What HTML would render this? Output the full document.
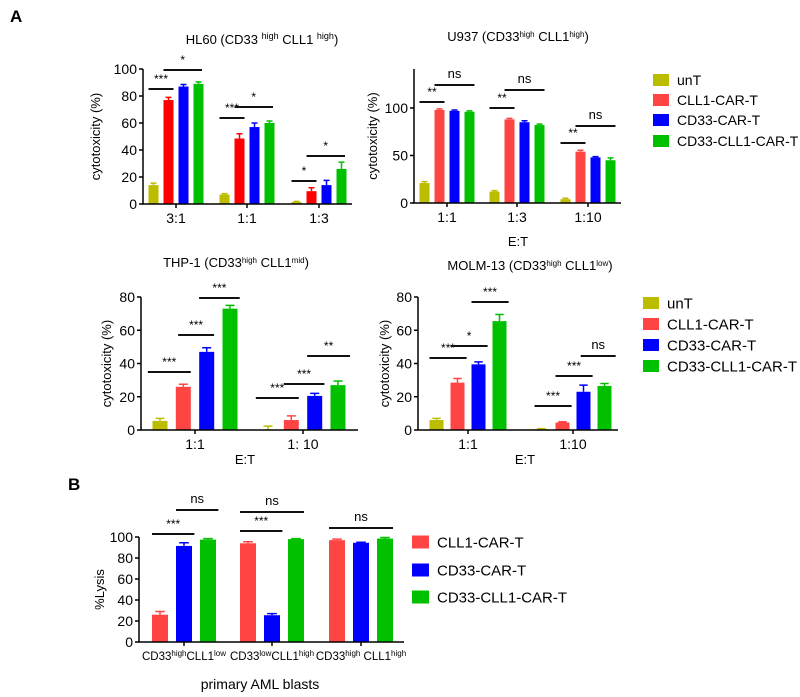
<!DOCTYPE html>
<html><head><meta charset="utf-8"><style>
html,body{margin:0;padding:0;background:#fff}
svg{display:block;font-family:"Liberation Sans",Arial,sans-serif}
</style></head><body>
<svg id="fig" width="800" height="697" viewBox="0 0 800 697" xmlns="http://www.w3.org/2000/svg">
<text x="10" y="22" font-size="17" font-weight="bold">A</text>
<text x="68" y="490" font-size="17" font-weight="bold">B</text>

<text x="262" y="44" font-size="13" text-anchor="middle">HL60 (CD33 <tspan font-size="9" dy="-5">high</tspan><tspan dy="5"> CLL1 </tspan><tspan font-size="9" dy="-5">high</tspan><tspan dy="5">)</tspan></text>
<text x="518" y="41" font-size="13" text-anchor="middle">U937 (CD33<tspan font-size="8" dy="-4">high</tspan><tspan dy="4"> CLL1</tspan><tspan font-size="8" dy="-4">high</tspan><tspan dy="4">)</tspan></text>
<text x="236" y="267" font-size="13" text-anchor="middle">THP-1 (CD33<tspan font-size="8" dy="-4">high</tspan><tspan dy="4"> CLL1</tspan><tspan font-size="8" dy="-4">mid</tspan><tspan dy="4">)</tspan></text>
<text x="530" y="270" font-size="13" text-anchor="middle">MOLM-13 (CD33<tspan font-size="8" dy="-4">high</tspan><tspan dy="4"> CLL1</tspan><tspan font-size="8" dy="-4">low</tspan><tspan dy="4">)</tspan></text>

<text x="518" y="246" font-size="13" text-anchor="middle">E:T</text>
<text x="245" y="464" font-size="13" text-anchor="middle">E:T</text>
<text x="525" y="464" font-size="13" text-anchor="middle">E:T</text>
<text x="260" y="689" font-size="14" text-anchor="middle">primary AML blasts</text>
<g id="layer"></g>
</svg>
<script>
// ---- data ----
const seriesNames = ["unT","CLL1-CAR-T","CD33-CAR-T","CD33-CLL1-CAR-T"];
const seriesNamesB = ["CLL1-CAR-T","CD33-CAR-T","CD33-CLL1-CAR-T"];
const hl60Cats = ["3:1","1:1","1:3"];
const hl60Vals = [[14,7,1.5],[77,48.5,9.5],[87,57,14],[89,60,26]];
const hl60Err = [[1.5,0.7,0.4],[2,3.5,2.5],[1.5,3,3.5],[1.5,1.5,5]];
const hl60Ticks = [0,20,40,60,80,100];
const u937Cats = ["1:1","1:3","1:10"];
const u937Vals = [[21,12,4],[98,88,54],[97,85,48],[96,82,45]];
const u937Err = [[1.5,1,1],[1,1,1.5],[0.8,1.5,0.8],[1,1,2.5]];
const u937Ticks = [0,50,100];
const thp1Cats = ["1:1","1: 10"];
const thp1Vals = [[5.5,0.3],[26,6],[47,20.5],[73,27]];
const thp1Err = [[1.5,2],[1.5,2.5],[2.5,1.5],[2,2.5]];
const thp1Ticks = [0,20,40,60,80];
const molmCats = ["1:1","1:10"];
const molmVals = [[6,0.5],[28.5,4.5],[39.5,23],[65.5,26.5]];
const molmErr = [[1,0.3],[2.5,0.5],[1.5,4],[4,1.5]];
const molmTicks = [0,20,40,60,80];
const bCats = [["CD33","high","CLL1","low"],["CD33","low","CLL1","high"],["CD33","high"," CLL1","high"]];
const bVals = [[26,94,97],[91.5,25.5,94.5],[97.5,98,98.5]];
const bErr = [[3,1.5,1],[3,1.5,0.5],[1,0.5,1]];
const bTicks = [0,20,40,60,80,100];
// brackets: [category index, series from, series to, label, y]
const hl60Sig = [[0,0,1,"***",89],[0,1,2.9,"*",70],[1,0,1,"***",118],[1,1,2.9,"*",107],[2,0,1,"*",181],[2,1,2.9,"*",156]];
const u937Sig = [[0,0,1,"**",102],[0,1,3,"ns",85],[1,0,1,"**",108],[1,1,3,"ns",90],[2,0,1,"**",143],[2,1,3,"ns",126]];
const thp1Sig = [[0,-0.2,1,"***",372],[0,1.1,2,"***",335],[0,2,3.1,"***",298],[1,-0.2,1,"***",398],[1,1,2.1,"***",384],[1,2,3.2,"**",356]];
const molmSig = [[0,0,1.1,"***",358],[0,1,2.1,"*",346],[0,2,3.1,"***",302],[1,0,1.1,"***",406],[1,1,2.1,"***",376],[1,2.2,3.2,"ns",356]];
const bSig = [[0,0,1.1,"***",534],[0,1,2.1,"ns",510],[1,0,1.1,"***",531],[1,0,2,"ns",512],[2,0,2,"ns",528]];

const NS="http://www.w3.org/2000/svg";
const layer=document.getElementById('layer');
function mk(tag,attrs,parent){const e=document.createElementNS(NS,tag);for(const k in attrs)e.setAttribute(k,attrs[k]);(parent||layer).appendChild(e);return e;}

function panel(p){
  const g=mk('g',{});
  
  
  const y=v=>p.y0-(v/p.max)*(p.y0-p.yTop);
  const x=(ci,si)=>p.centers[ci]+p.offsets[si];
  p.vals.forEach((ser,si)=>{
    ser.forEach((v,ci)=>{
      const bx=x(ci,si)-p.bw/2, top=y(v), et=y(v+p.err[si][ci]);
      const eb=mk('path',{d:`M${x(ci,si)} ${top} V${et} M${x(ci,si)-p.bw*0.3} ${et} H${x(ci,si)+p.bw*0.3}`,stroke:p.colors[si],'stroke-width':1.5,fill:'none'},g);
      
      
      const r=mk('rect',{x:bx,y:top,width:p.bw,height:Math.max(0,p.y0-top),fill:p.colors[si]},g);
      
      
    });
  });
  const ax=mk('path',{d:`M${p.ax} ${p.yTop} V${p.y0} H${p.xEnd}`,stroke:'#000','stroke-width':1.5,fill:'none'},g);
  
  
  p.ticks.forEach(t=>{
    mk('line',{x1:p.ax-4,x2:p.ax,y1:y(t),y2:y(t),stroke:'#000','stroke-width':1.5},g);
    const tl=mk('text',{x:p.ax-6,y:y(t)+5,'font-size':p.tfs,'text-anchor':'end'},g);
    tl.textContent=t;
    
    
  });
  p.centers.forEach((c,ci)=>{
    mk('line',{x1:c,x2:c,y1:p.y0,y2:p.y0+4,stroke:'#000','stroke-width':1.5},g);
    if(p.catLabel){p.catLabel(c,ci,g);return;}
    const tl=mk('text',{x:c,y:p.y0+19,'font-size':14,'text-anchor':'middle'},g);
    tl.textContent=p.cats[ci];
    
    
  });
  const yl=mk('text',{x:0,y:0,'font-size':13,'text-anchor':'middle',transform:`translate(${p.ylx},${(p.y0+p.yTop)/2}) rotate(-90)`},g);
  yl.textContent=p.ylabel;
  
  
  p.sig.forEach(s=>{
    const c=p.centers[s[0]], step=p.offsets[1]-p.offsets[0];
    const x1=c+p.offsets[0]+s[1]*step-p.bw/2, x2=c+p.offsets[0]+s[2]*step+p.bw/2;
    const ln=mk('line',{x1:x1,x2:x2,y1:s[4],y2:s[4],stroke:'#111','stroke-width':2},g);
    
    
    const isNs=s[3]==='ns';
    const tx=mk('text',{x:(x1+x2)/2,y:s[4]-(isNs?7:6),'font-size':isNs?13:12,'text-anchor':'middle'},g);
    tx.textContent=s[3];
    
    
  });
}
const C4a=['#bdbd00','#ff0000','#0000ff','#00c000'];
const C4=['#bdbd00','#ff4444','#0000ff','#00c000'];
panel({name:'hl60',series:seriesNames,vals:hl60Vals,err:hl60Err,cats:hl60Cats,ticks:hl60Ticks,sig:hl60Sig,colors:C4a,
  ax:143,y0:204,yTop:69,max:100,xEnd:352,centers:[176,247,319],offsets:[-22.5,-7.5,7.5,22.5],bw:10,tfs:14,ylx:100,ylabel:'cytotoxicity (%)'});
panel({name:'u937',series:seriesNames,vals:u937Vals,err:u937Err,cats:u937Cats,ticks:u937Ticks,sig:u937Sig,colors:C4,
  ax:414,y0:203,yTop:69,max:141,xEnd:621,centers:[447,517,588],offsets:[-22.5,-7.5,7.5,22.5],bw:10,tfs:14,ylx:377,ylabel:'cytotoxicity (%)'});
panel({name:'thp1',series:seriesNames,vals:thp1Vals,err:thp1Err,cats:thp1Cats,ticks:thp1Ticks,sig:thp1Sig,colors:C4,
  ax:141,y0:430,yTop:297,max:80,xEnd:358,centers:[195,303],offsets:[-35,-11.7,11.7,35],bw:15,tfs:14,ylx:111,ylabel:'cytotoxicity (%)'});
panel({name:'molm13',series:seriesNames,vals:molmVals,err:molmErr,cats:molmCats,ticks:molmTicks,sig:molmSig,colors:C4,
  ax:418,y0:430,yTop:297,max:80,xEnd:618,centers:[468,573],offsets:[-31.5,-10.5,10.5,31.5],bw:14,tfs:14,ylx:389,ylabel:'cytotoxicity (%)'});
panel({name:'lysis',series:seriesNamesB,vals:bVals,err:bErr,cats:bCats,ticks:bTicks,sig:bSig,colors:['#ff4444','#0000ff','#00c000'],
  ax:139,y0:642,yTop:537,max:100,xEnd:404,centers:[184,272,361],offsets:[-24,0,24],bw:16,tfs:14,ylx:104,ylabel:'%Lysis',
  catLabel:(c,ci,g)=>{const b=bCats[ci];const t=mk('text',{x:c,y:660,'font-size':11.5,'text-anchor':'middle'},g);
    
    
    t.innerHTML=`${b[0]}<tspan font-size="8" dy="-4">${b[1]}</tspan><tspan dy="4">${b[2]}</tspan><tspan font-size="8" dy="-4">${b[3]}</tspan>`;}});

function legend(names,colors,x,ys,fs,sq,nm){
  names.forEach((n,i)=>{
    const r=mk('rect',{x:x,y:ys[i]-sq/2,width:sq+4,height:sq,fill:colors[i]});
    
    
    const t=mk('text',{x:x+sq+12,y:ys[i]+fs*0.36,'font-size':fs});
    t.textContent=n;
    
    
  });
}
legend(seriesNames,C4,653,[80,100,120,141],14,12,'legend-top');
legend(seriesNames,C4,643,[303,324,345,366],15,12,'legend-mid');
legend(seriesNamesB,['#ff4444','#0000ff','#00c000'],412,[542,570,597],15,13,'legend-b');
</script>
</body></html>
